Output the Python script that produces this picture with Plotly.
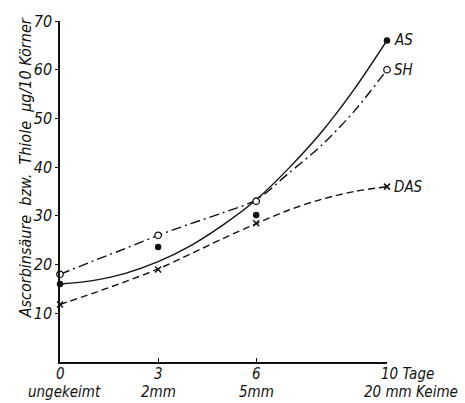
import plotly.graph_objects as go

# measured points
days = [0, 3, 6, 10]
as_pts = [16, 23.6, 30.2, 66]
sh_pts = [18, 26, 33, 60]
das_pts = [11.8, 19, 28.5, 36]

# smoothed curves
curve_x = [0, 1, 2, 3, 4, 5, 6, 7, 8, 9, 10]
as_curve = [16, 16.7, 18.2, 20.6, 23.9, 28.2, 33.3, 39.8, 47.2, 56, 66]
sh_curve = [18, 20.7, 23.3, 26, 28.4, 30.7, 33.3, 38.8, 44.5, 51.5, 60]
das_curve = [11.8, 14.1, 16.5, 19.1, 22.2, 25.4, 28.4, 31.2, 33.4, 35, 36]

series_labels = ["AS", "SH", "DAS"]
yticks = [10, 20, 30, 40, 50, 60, 70]
xticks = [0, 3, 6, 10]
xlab1 = ["0", "3", "6", "10 Tage"]
xlab2 = ["ungekeimt", "2mm", "5mm", "20 mm Keime"]

FONT = "DejaVu Sans Condensed, Liberation Sans Narrow, DejaVu Sans"
BLACK = "#111111"

fig = go.Figure()

fig.add_trace(go.Scatter(x=curve_x, y=as_curve, mode="lines", line=dict(color=BLACK, width=1.4, shape="spline", smoothing=0.9), showlegend=False))
fig.add_trace(go.Scatter(x=curve_x, y=sh_curve, mode="lines", line=dict(color=BLACK, width=1.4, shape="spline", smoothing=0.9, dash="10px,4px,2px,4px"), showlegend=False))
fig.add_trace(go.Scatter(x=curve_x, y=das_curve, mode="lines", line=dict(color=BLACK, width=1.4, shape="spline", smoothing=0.9, dash="7px,4px"), showlegend=False))

fig.add_trace(go.Scatter(x=days, y=as_pts, mode="markers", marker=dict(symbol="circle", size=6.5, color=BLACK), cliponaxis=False, showlegend=False))
fig.add_trace(go.Scatter(x=days, y=sh_pts, mode="markers", marker=dict(symbol="circle", size=6.5, color="white", line=dict(color=BLACK, width=1.3)), cliponaxis=False, showlegend=False))
fig.add_trace(go.Scatter(x=days, y=das_pts, mode="markers", marker=dict(symbol="x-thin", size=6, line=dict(color=BLACK, width=1.5)), cliponaxis=False, showlegend=False))

# series labels at the right ends
for lab, yv in zip(series_labels, [as_pts[-1], sh_pts[-1], das_pts[-1]]):
    fig.add_annotation(x=10, y=yv, text="<i>" + lab + "</i>", showarrow=False, xanchor="left", xshift=5,
                       font=dict(family=FONT, size=15, color=BLACK))

# x tick labels (two lines)
for i, xv in enumerate(xticks):
    if i < 3:
        fig.add_annotation(x=xv, y=0, yref="y", text="<i>" + xlab1[i] + "</i>", showarrow=False,
                           xanchor="center", yanchor="middle", yshift=-12, font=dict(family=FONT, size=15, color=BLACK))
        fig.add_annotation(x=xv, y=0, yref="y", text="<i>" + xlab2[i] + "</i>", showarrow=False,
                           xanchor="center", yanchor="middle", yshift=-30, xshift=4 if i == 0 else 0,
                           font=dict(family=FONT, size=15, color=BLACK))
    else:
        fig.add_annotation(x=xv, y=0, yref="y", text="<i>" + xlab1[i] + "</i>", showarrow=False,
                           xanchor="left", yanchor="middle", yshift=-12, xshift=-8, font=dict(family=FONT, size=15, color=BLACK))
        fig.add_annotation(x=xv, y=0, yref="y", text="<i>" + xlab2[i] + "</i>", showarrow=False,
                           xanchor="left", yanchor="middle", yshift=-30, xshift=-25, font=dict(family=FONT, size=15, color=BLACK))

# y-axis title
fig.add_annotation(xref="paper", yref="paper", x=-60 / 327, y=0.568, xshift=25,
                   text="<i>Ascorbinsäure&nbsp; bzw.&nbsp; Thiole&nbsp; µg/10 Körner</i>",
                   textangle=-90, showarrow=False, xanchor="center", yanchor="middle",
                   font=dict(family=FONT, size=16, color=BLACK))

fig.update_layout(
    width=465, height=403,
    margin=dict(l=60, r=78, t=15, b=41),
    paper_bgcolor="white", plot_bgcolor="white",
    font=dict(family=FONT, color=BLACK),
    xaxis=dict(range=[0, 10], showgrid=False, zeroline=False, showline=True, linecolor=BLACK, linewidth=1.5,
               tickvals=xticks[1:], ticktext=["", "", ""], ticks="inside", ticklen=4, tickcolor=BLACK, tickwidth=1.2),
    yaxis=dict(range=[0, 70], showgrid=False, zeroline=False, showline=True, linecolor=BLACK, linewidth=1.5,
               tickvals=yticks, ticktext=["<i>%d</i>" % v for v in yticks], ticks="outside", ticklen=3,
               tickcolor=BLACK, tickwidth=1.2, tickfont=dict(family=FONT, size=16, color=BLACK)),
)

fig.write_html("out.html")
